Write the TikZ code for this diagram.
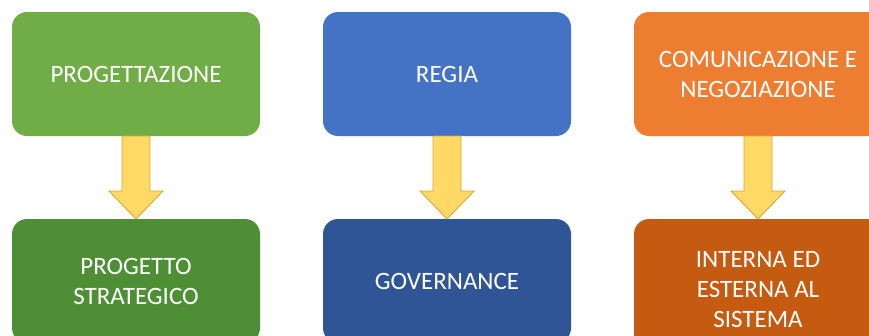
\documentclass[tikz,border=0pt]{standalone}
\usepackage{fontspec}
\setmainfont{Carlito}
\usetikzlibrary{calc}
\usetikzlibrary{positioning}

\definecolor{verdeA}{HTML}{70AD47}
\definecolor{verdeB}{HTML}{4E8F36}
\definecolor{bluA}{HTML}{4472C4}
\definecolor{bluB}{HTML}{2F5597}
\definecolor{aranA}{HTML}{ED7D31}
\definecolor{aranB}{HTML}{C55A11}
\definecolor{giallo}{HTML}{FFD966}
\definecolor{oro}{HTML}{D9A634}

\begin{document}
\begin{tikzpicture}
[
x=1pt, y=1pt,
% testo dei riquadri
every node/.style={outer sep=0, inner sep=0},
% riquadri arrotondati
box/.style={rectangle, rounded corners=15pt, minimum width=248pt,
minimum height=124pt, text=white, align=center,
font=\fontsize{25}{30}\selectfont},
% frecce gialle
freccia/.style={fill=giallo, draw=oro, line width=0.9pt, line join=miter}
]
\useasboundingbox (0,0) rectangle (869,-335);

% riga superiore
\node [box, fill=verdeA] (prog) at (136,-74) {PROGETTAZIONE};
\node [box, fill=bluA, right=63 of prog] (regia) {REGIA};
\node [box, fill=aranA, right=63 of regia] (comun) {COMUNICAZIONE E\\NEGOZIAZIONE};

% riga inferiore
\node [box, fill=verdeB, below=83 of prog] (strat) {PROGETTO\\STRATEGICO};
\node [box, fill=bluB, below=83 of regia] (gov) {GOVERNANCE};
\node [box, fill=aranB, minimum height=142pt, below=83 of comun] (sist)
{INTERNA ED\\ESTERNA AL\\SISTEMA};

% frecce tra le righe
\foreach \a/\b in {prog/strat, regia/gov, comun/sist}
{
\draw [freccia] ($(\a.south)+(-14,0)$) -- ($(\b.north)+(-14,28)$)
-- ($(\b.north)+(-27,28)$) -- (\b.north) -- ($(\b.north)+(27,28)$)
-- ($(\b.north)+(14,28)$) -- ($(\a.south)+(14,0)$) -- cycle;
}
\end{tikzpicture}
\end{document}
